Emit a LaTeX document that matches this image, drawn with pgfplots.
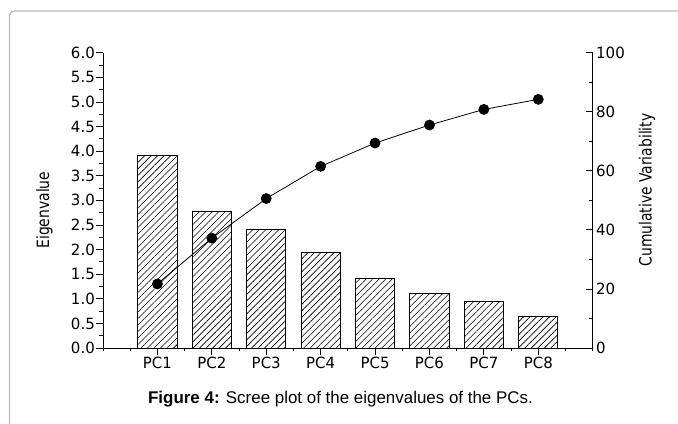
\documentclass[border=0pt]{standalone}
\usepackage{fontspec}
\setmainfont{Liberation Sans}
\newfontfamily\tkfont[FakeStretch=0.97]{DejaVu Sans}
\newfontfamily\lbfont[FakeStretch=0.82]{DejaVu Sans}
\usepackage{pgfplots}
\pgfplotsset{compat=1.18}
\usetikzlibrary{patterns.meta}
\begin{document}
\begin{tikzpicture}
\useasboundingbox (0bp,0bp) rectangle (678bp,424bp);
\draw[gray!55, line width=1.2bp, rounded corners=5bp] (9.5bp,-10bp) -- (9.5bp,413bp) -- (700bp,413bp);
\begin{axis}[
  at={(103bp,76bp)}, anchor=south west, scale only axis,
  width=489.7bp, height=295.3bp,
  xmin=0, xmax=9, ymin=0, ymax=6,
  axis x line*=bottom, axis y line*=left,
  axis line style={black, line width=0.9bp},
  xtick={1,...,8},
  xticklabels={PC1,PC2,PC3,PC4,PC5,PC6,PC7,PC8},
  minor xtick={0,0.5,...,9},
  ytick={0,0.5,...,6},
  minor ytick={0.25,0.75,...,5.75},
  yticklabel style={/pgf/number format/fixed, /pgf/number format/fixed zerofill, /pgf/number format/precision=1},
  /pgf/number format/assume math mode=true,
  tick align=outside,
  major tick length=7bp, minor tick length=3.5bp,
  tick style={black, line width=0.8bp},
  ticklabel style={font=\tkfont\fontsize{15.5}{15.5}\selectfont},
  yticklabel style={inner xsep=1bp},
  xticklabel style={inner ysep=2bp},
  ylabel={Eigenvalue},
  ylabel style={font=\lbfont\fontsize{17}{17}\selectfont, at={(axis description cs:-0.1195,0.467)}, anchor=center},
]
\addplot[ybar, bar width=0.72, draw=black, line width=0.8bp,
  pattern={Lines[angle=45,distance=4.6bp,line width=0.6bp]}]
  coordinates {(1,3.92)(2,2.78)(3,2.41)(4,1.945)(5,1.42)(6,1.11)(7,0.94)(8,0.65)};
\end{axis}
\begin{axis}[
  at={(103bp,76bp)}, anchor=south west, scale only axis,
  width=489.7bp, height=295.3bp,
  xmin=0, xmax=9, ymin=0, ymax=100,
  axis x line=none, axis y line*=right,
  axis line style={black, line width=0.9bp},
  ytick={0,20,...,100},
  minor ytick={10,30,...,90},
  /pgf/number format/assume math mode=true,
  tick align=inside,
  major tick length=7bp, minor tick length=3.5bp,
  tick style={black, line width=0.8bp},
  ticklabel style={font=\tkfont\fontsize{15.5}{15.5}\selectfont},
  ylabel={Cumulative Variability},
  ylabel style={font=\lbfont\fontsize{17}{17}\selectfont, at={(axis description cs:1.111,0.535)}, anchor=center},
]
\addplot[black, line width=0.8bp, mark=*, mark size=5bp, mark options={fill=black}]
  coordinates {(1,21.7)(2,37.2)(3,50.6)(4,61.5)(5,69.4)(6,75.5)(7,80.8)(8,84.2)};
\end{axis}
\node[font=\fontsize{17}{19}\selectfont] at (340.5bp,24.5bp) {\textbf{Figure 4:} Scree plot of the eigenvalues of the PCs.};
\end{tikzpicture}
\end{document}
